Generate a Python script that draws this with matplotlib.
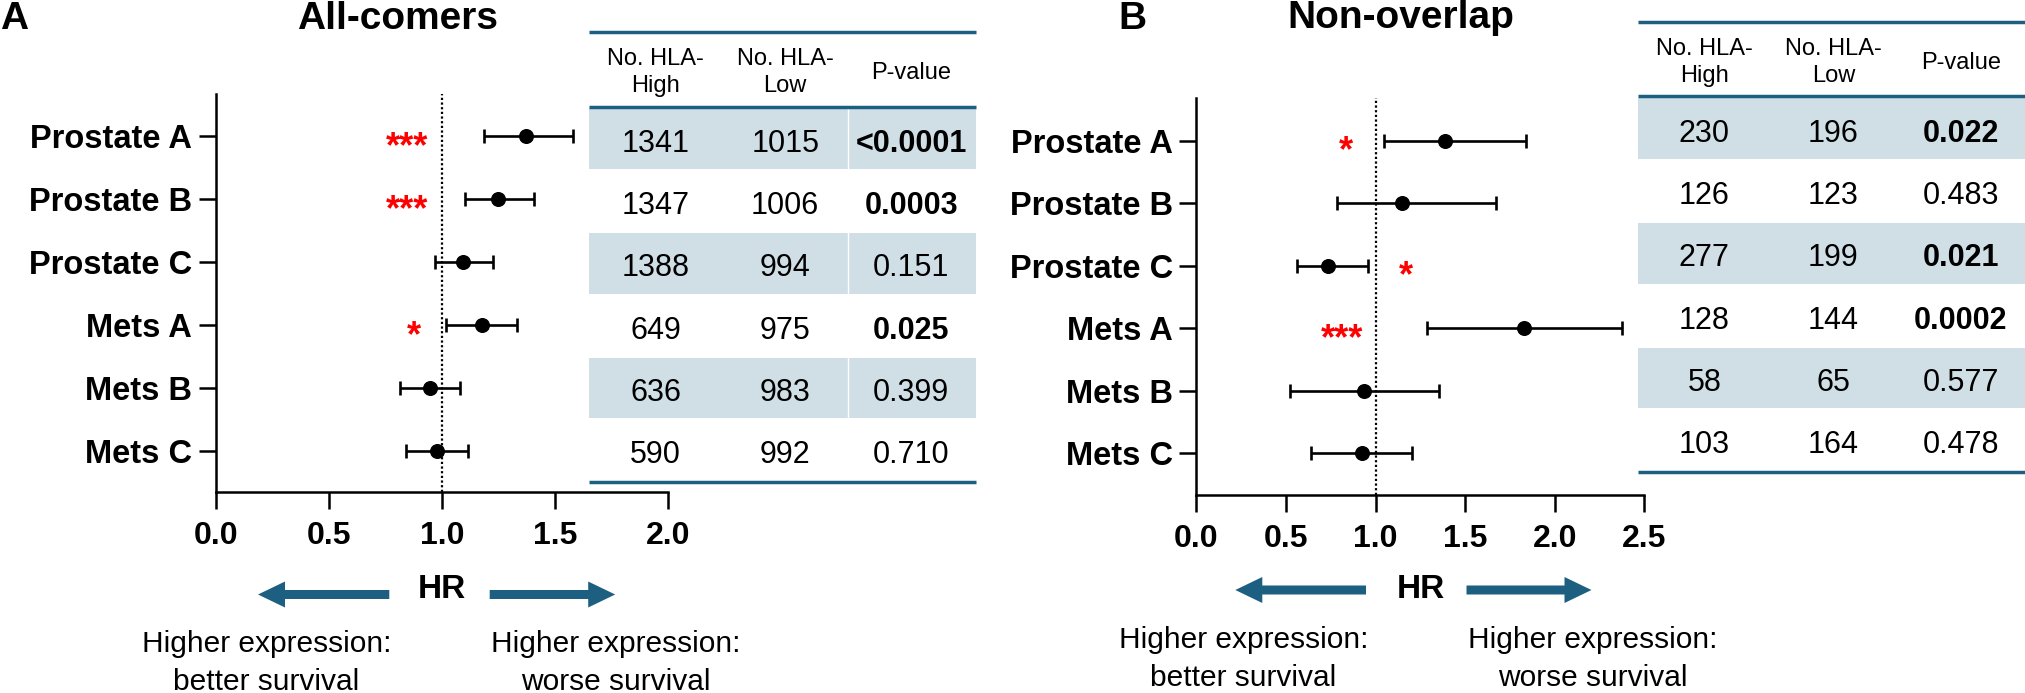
import matplotlib
matplotlib.use('Agg')
import matplotlib.pyplot as plt
from matplotlib.patches import Rectangle, FancyArrow

plt.rcParams['font.family'] = ['Liberation Sans', 'DejaVu Sans']

W, H, DPI = 2025, 693, 100

# ---------------- data ----------------
categories = ['Prostate A', 'Prostate B', 'Prostate C', 'Mets A', 'Mets B', 'Mets C']

# Panel A: All-comers
hr_a = [1.372, 1.249, 1.092, 1.176, 0.947, 0.980]
lo_a = [1.186, 1.102, 0.969, 1.017, 0.816, 0.843]
hi_a = [1.578, 1.407, 1.224, 1.333, 1.079, 1.117]
n_high_a = ['1341', '1347', '1388', '649', '636', '590']
n_low_a = ['1015', '1006', '994', '975', '983', '992']
p_a = ['<0.0001', '0.0003', '0.151', '0.025', '0.399', '0.710']
sig_a = [True, True, False, True, False, False]
stars_a = ['***', '***', '', '*', '', '']

# Panel B: Non-overlap
hr_b = [1.388, 1.146, 0.733, 1.831, 0.938, 0.923]
lo_b = [1.047, 0.787, 0.562, 1.286, 0.524, 0.638]
hi_b = [1.840, 1.671, 0.956, 2.378, 1.355, 1.206]
n_high_b = ['230', '126', '277', '128', '58', '103']
n_low_b = ['196', '123', '199', '144', '65', '164']
p_b = ['0.022', '0.483', '0.021', '0.0002', '0.577', '0.478']
sig_b = [True, False, True, True, False, False]
stars_b = ['*', '', '*', '***', '', '']

xticks_a = [0.0, 0.5, 1.0, 1.5, 2.0]
xticks_b = [0.0, 0.5, 1.0, 1.5, 2.0, 2.5]
header_lines = [['No. HLA-', 'High'], ['No. HLA-', 'Low'], ['P-value']]

# ---------------- layout (positions for annotations) ----------------
star_pos_a = [0.846, 0.846, None, 0.878, None, None]
star_pos_b = [0.835, None, 1.170, 0.811, None, None]

TEAL = '#1d5f80'
SHADE = '#d0dfe6'

fig = plt.figure(figsize=(W / DPI, H / DPI), dpi=DPI)

# overlay axes in pixel coordinates
ov = fig.add_axes([0, 0, 1, 1])
ov.set_xlim(0, W)
ov.set_ylim(H, 0)
ov.axis('off')


def px_axes(left, top, right, bottom):
    return fig.add_axes([left / W, 1 - bottom / H, (right - left) / W, (bottom - top) / H])


def forest(box, ylim, hr, lo, hi, xticks, stars, star_pos):
    ax = px_axes(*box)
    ax.patch.set_visible(False)
    y = list(range(len(categories)))
    xerr = [[h - l for h, l in zip(hr, lo)], [u - h for h, u in zip(hr, hi)]]
    ax.axvline(1.0, color='black', lw=1.6, ls=(0, (1, 1.1)), zorder=1)
    ax.errorbar(hr, y, xerr=xerr, fmt='o', color='black', ms=9.8,
                capsize=5.3, elinewidth=1.9, capthick=1.9, zorder=3)
    ax.set_xlim(xticks[0], xticks[-1])
    ax.set_ylim(*ylim)
    ax.set_xticks(xticks)
    ax.set_xticklabels([f'{t:.1f}' for t in xticks], fontsize=23, fontweight='bold')
    ax.set_yticks(y)
    ax.set_yticklabels(categories, fontsize=23.5, fontweight='bold')
    ax.tick_params(axis='x', length=12, width=1.8, pad=9)
    ax.tick_params(axis='y', length=12, width=1.8, pad=5)
    for s in ['top', 'right']:
        ax.spines[s].set_visible(False)
    for s in ['left', 'bottom']:
        ax.spines[s].set_linewidth(1.8)
    for yi, st, sx in zip(y, stars, star_pos):
        if st:
            ax.annotate(st, xy=(sx, yi), xytext=(0, -15), textcoords='offset points',
                        ha='center', va='baseline', color='red', fontsize=26,
                        fontweight='bold')
    return ax


forest((215.6, 94, 668.3, 492), (5.655, -0.672), hr_a, lo_a, hi_a, xticks_a, stars_a, star_pos_a)
forest((1196.4, 98, 1644.2, 494.5), (5.661, -0.683), hr_b, lo_b, hi_b, xticks_b, stars_b, star_pos_b)


def table(x0, x1, top, hdr_rule, first_base, row_h, band_top, col_x, nh, nl, pv, sig, sep=None):
    ov.plot([x0, x1], [top, top], color=TEAL, lw=2.5, solid_capstyle='butt')
    ov.plot([x0, x1], [hdr_rule, hdr_rule], color=TEAL, lw=2.5, solid_capstyle='butt')
    nrows = len(nh)
    bottom = band_top + nrows * row_h
    ov.plot([x0, x1], [bottom, bottom], color=TEAL, lw=2.5, solid_capstyle='butt')
    for i in range(0, nrows, 2):
        ov.add_patch(Rectangle((x0, band_top + i * row_h), x1 - x0, row_h - 1.5,
                               facecolor=SHADE, edgecolor='none', zorder=0))
        if sep is not None:
            ov.plot([sep, sep], [band_top + i * row_h, band_top + (i + 1) * row_h - 1.5],
                    color='white', lw=1.0, zorder=1)
    # header
    for cx, lines in zip(col_x, header_lines):
        if len(lines) == 2:
            ov.text(cx, top + 33.3, lines[0], ha='center', va='baseline', fontsize=17)
            ov.text(cx, top + 60, lines[1], ha='center', va='baseline', fontsize=17)
        else:
            ov.text(cx, top + 47.3, lines[0], ha='center', va='baseline', fontsize=17)
    for i in range(nrows):
        yb = first_base + i * row_h
        ov.text(col_x[0], yb, nh[i], ha='center', va='baseline', fontsize=22)
        ov.text(col_x[1], yb, nl[i], ha='center', va='baseline', fontsize=22)
        ov.text(col_x[2], yb, pv[i], ha='center', va='baseline', fontsize=22,
                fontweight='bold' if sig[i] else 'normal')


table(589.3, 975.7, 31.7, 106.7, 151.7, 62.3, 108.3, [655.7, 785.2, 911.2],
      n_high_a, n_low_a, p_a, sig_a, sep=848.3)
table(1638.3, 2025, 21.7, 96.0, 141.7, 62.3, 98.3, [1704.3, 1833.3, 1960.7],
      n_high_b, n_low_b, p_b, sig_b)

# titles & panel labels
ov.text(0, 29.3, 'A', ha='left', va='baseline', fontsize=28, fontweight='bold')
ov.text(1118, 29.3, 'B', ha='left', va='baseline', fontsize=28, fontweight='bold')
ov.text(397.6, 29.3, 'All-comers', ha='center', va='baseline', fontsize=28, fontweight='bold')
ov.text(1400.8, 28.5, 'Non-overlap', ha='center', va='baseline', fontsize=28, fontweight='bold')


def hr_block(hr_x, hr_base, arrow_y, la, ra, lt_x, rt_x, base1, base2):
    ov.text(hr_x, hr_base, 'HR', ha='center', va='baseline', fontsize=24, fontweight='bold')
    for tail, tip in (la, ra):
        ov.add_patch(FancyArrow(tail, arrow_y, tip - tail, 0, width=9, head_width=26,
                                head_length=27, length_includes_head=True,
                                color=TEAL, lw=0))
    ov.text(lt_x, base1, 'Higher expression:', ha='center', va='baseline', fontsize=21.5)
    ov.text(lt_x, base2, 'better survival', ha='center', va='baseline', fontsize=21.5)
    ov.text(rt_x, base1, 'Higher expression:', ha='center', va='baseline', fontsize=21.5)
    ov.text(rt_x, base2, 'worse survival', ha='center', va='baseline', fontsize=21.5)


hr_block(442, 598.3, 594.5, (389.3, 258), (489.7, 615.2), 266.5, 615.4, 651.7, 690)
hr_block(1420.5, 598.3, 590, (1366, 1235.3), (1466.5, 1591.5), 1243.5, 1592.4, 647.7, 685.5)

fig.savefig('out.png', dpi=DPI)
